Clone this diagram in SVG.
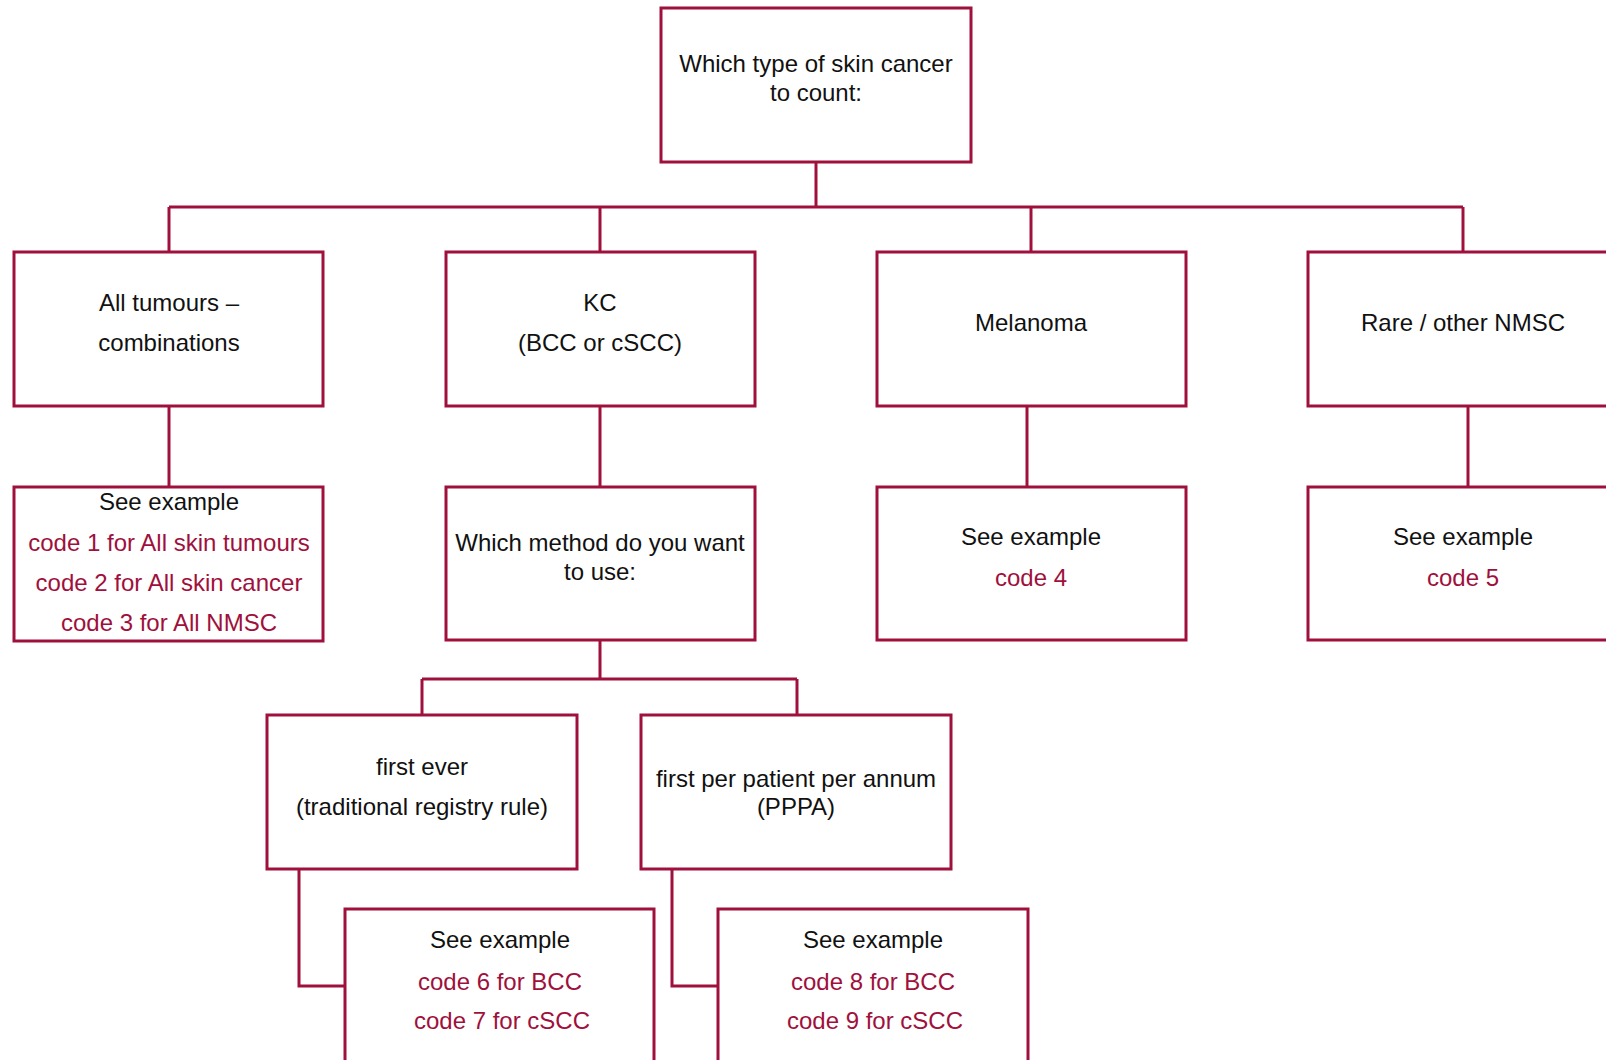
<svg xmlns="http://www.w3.org/2000/svg" width="1606" height="1060" viewBox="0 0 1606 1060">
<style>
.box{fill:#ffffff;stroke:#A0103C;stroke-width:3}
.ln{fill:none;stroke:#A0103C;stroke-width:3}
text{font-family:"Liberation Sans",Arial,sans-serif;font-size:24px;text-anchor:middle;fill:#111111}
.red{fill:#A0103C}
</style>
<rect width="1606" height="1060" fill="#ffffff"/>
<g id="connectors">
<path class="ln" d="M816,162 V207"/>
<path class="ln" d="M169,207 H1463"/>
<path class="ln" d="M169,207 V252"/>
<path class="ln" d="M600,207 V252"/>
<path class="ln" d="M1031,207 V252"/>
<path class="ln" d="M1463,207 V252"/>
<path class="ln" d="M169,406 V487"/>
<path class="ln" d="M600,406 V487"/>
<path class="ln" d="M1027,406 V487"/>
<path class="ln" d="M1468,406 V487"/>
<path class="ln" d="M600,640 V679"/>
<path class="ln" d="M422,679 H797"/>
<path class="ln" d="M422,679 V715"/>
<path class="ln" d="M797,679 V715"/>
<path class="ln" d="M299,869 V986 H345"/>
<path class="ln" d="M672,869 V986 H718"/>
</g>
<g id="n-top">
<rect class="box" x="661" y="8" width="310" height="154"/>
<text x="816" y="72">Which type of skin cancer</text>
<text x="816" y="101">to count:</text>
</g>
<g id="n-all">
<rect class="box" x="14" y="252" width="309" height="154"/>
<text x="169" y="311">All tumours –</text>
<text x="169" y="351">combinations</text>
</g>
<g id="n-kc">
<rect class="box" x="446" y="252" width="309" height="154"/>
<text x="600" y="311">KC</text>
<text x="600" y="351">(BCC or cSCC)</text>
</g>
<g id="n-mel">
<rect class="box" x="877" y="252" width="309" height="154"/>
<text x="1031" y="331">Melanoma</text>
</g>
<g id="n-rare">
<rect class="box" x="1308" y="252" width="309" height="154"/>
<text x="1463" y="331">Rare / other NMSC</text>
</g>
<g id="n-ex123">
<rect class="box" x="14" y="487" width="309" height="154"/>
<text x="169" y="510">See example</text>
<text class="red" x="169" y="551">code 1 for All skin tumours</text>
<text class="red" x="169" y="591">code 2 for All skin cancer</text>
<text class="red" x="169" y="631">code 3 for All NMSC</text>
</g>
<g id="n-method">
<rect class="box" x="446" y="487" width="309" height="153"/>
<text x="600" y="551">Which method do you want</text>
<text x="600" y="580">to use:</text>
</g>
<g id="n-ex4">
<rect class="box" x="877" y="487" width="309" height="153"/>
<text x="1031" y="545">See example</text>
<text class="red" x="1031" y="586">code 4</text>
</g>
<g id="n-ex5">
<rect class="box" x="1308" y="487" width="309" height="153"/>
<text x="1463" y="545">See example</text>
<text class="red" x="1463" y="586">code 5</text>
</g>
<g id="n-first">
<rect class="box" x="267" y="715" width="310" height="154"/>
<text x="422" y="775">first ever</text>
<text x="422" y="815">(traditional registry rule)</text>
</g>
<g id="n-pppa">
<rect class="box" x="641" y="715" width="310" height="154"/>
<text x="796" y="787">first per patient per annum</text>
<text x="796" y="815">(PPPA)</text>
</g>
<g id="n-ex67">
<rect class="box" x="345" y="909" width="309" height="160"/>
<text x="500" y="948">See example</text>
<text class="red" x="500" y="990">code 6 for BCC</text>
<text class="red" x="502" y="1029">code 7 for cSCC</text>
</g>
<g id="n-ex89">
<rect class="box" x="718" y="909" width="310" height="160"/>
<text x="873" y="948">See example</text>
<text class="red" x="873" y="990">code 8 for BCC</text>
<text class="red" x="875" y="1029">code 9 for cSCC</text>
</g>
</svg>
